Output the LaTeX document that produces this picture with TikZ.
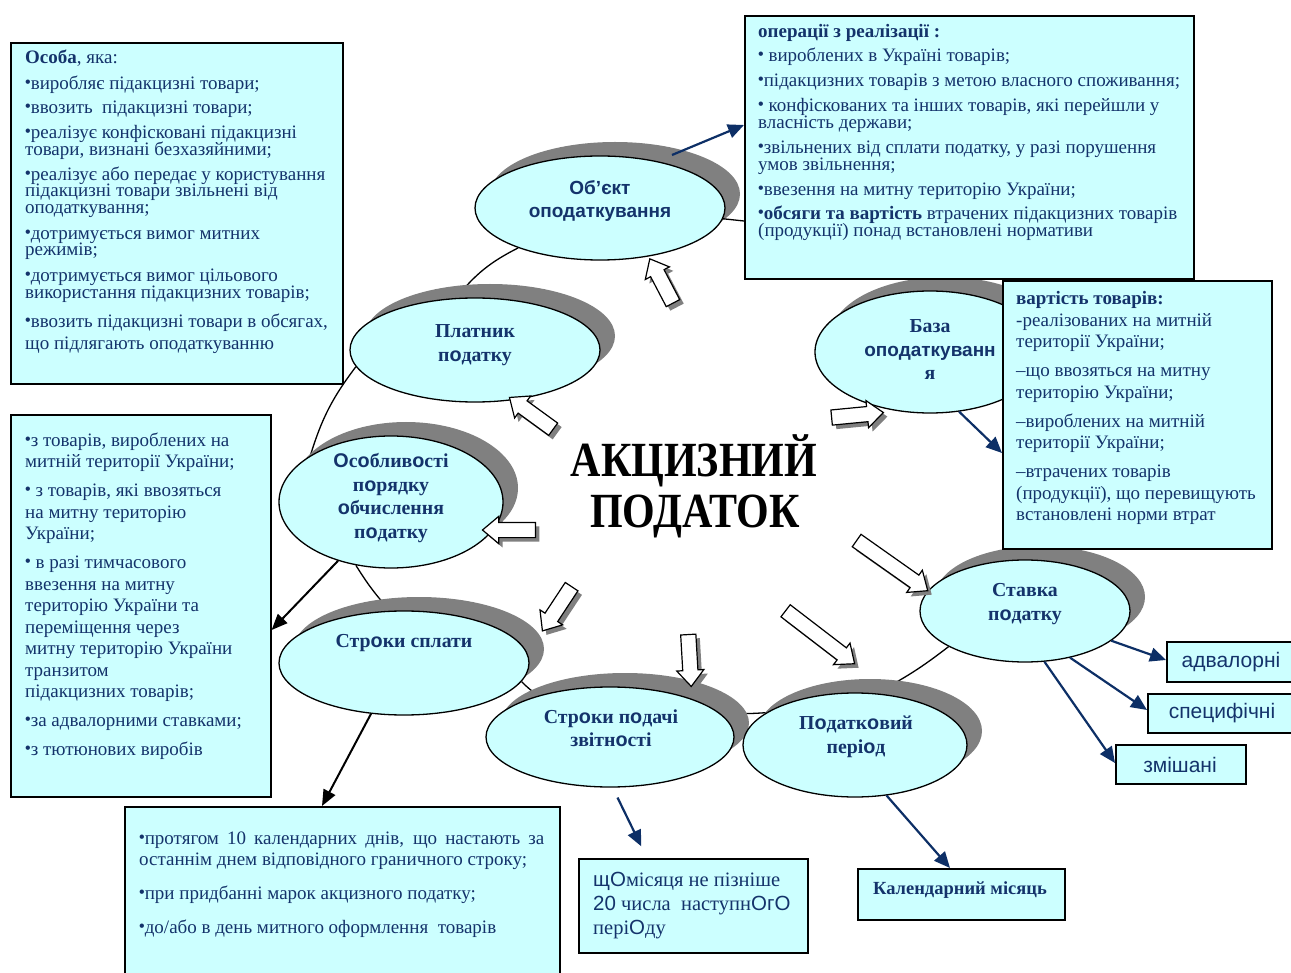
\documentclass[tikz,border=0pt]{standalone}
\usepackage{fontspec}
\setmainfont{Liberation Serif}
\newfontfamily\arialf{Liberation Sans}
\usetikzlibrary{shapes.geometric,shapes.arrows,shadows,arrows.meta,calc,backgrounds}
\definecolor{cyanfill}{HTML}{CCFFFF}
\definecolor{navytxt}{HTML}{14336B}
\definecolor{navyline}{HTML}{0D2F66}
\definecolor{shadowgray}{HTML}{808080}
\setlength{\lineskiplimit}{-30pt}
\setlength{\lineskip}{0pt}
\newcommand\ao[1]{{\arialf #1}}
\newcommand\bul{{\arialf\fontsize{16}{16}\selectfont\raisebox{2.2pt}{•}}}
\tikzset{
  box/.style={draw=black, line width=1.6pt, fill=cyanfill, inner sep=0pt, anchor=north west},
  txt/.style={anchor=north west, inner sep=0pt, align=left, text=navytxt},
  ell/.style={ellipse, draw=black, line width=1.3pt, fill=cyanfill, inner sep=0pt,
    general shadow={fill=shadowgray, shadow xshift=15pt, shadow yshift=14pt}},
  elltxt/.style={inner sep=0pt, align=center, text=navytxt, font=\bfseries\fontsize{19.8}{23.5}\selectfont},
  barrow/.style={single arrow, draw=black, line width=1.2pt, fill=white, minimum width=26pt,
    single arrow head extend=6pt, single arrow tip angle=80, inner xsep=0pt, inner ysep=7pt,
    general shadow={fill=shadowgray, shadow xshift=4pt, shadow yshift=-4pt}},
  navyarrow/.style={draw=navyline, line width=2.2pt, -{Triangle[length=16pt,width=14pt]}},
  blackarrow/.style={draw=black, line width=2pt, -{Triangle[length=16pt,width=13pt]}},
  oval/.style={draw=black, line width=1.3pt},
}
\begin{document}
\begin{tikzpicture}[x=1pt,y=1pt]
\useasboundingbox (0,0) rectangle (1291,-973);

% ellipses
\node[ell, minimum width=250pt, minimum height=104pt] (obj) at (600,-208) {};
\node[ell, minimum width=250pt, minimum height=104pt] (plat) at (475,-350) {};
\node[ell, minimum width=224pt, minimum height=132pt] (osob) at (391,-502) {};
\node[ell, minimum width=250pt, minimum height=104pt] (strok) at (404,-663) {};
\node[ell, minimum width=248pt, minimum height=100pt] (podachi) at (610,-737) {};
\node[ell, minimum width=224pt, minimum height=104pt] (period) at (855,-745) {};
\node[ell, minimum width=210pt, minimum height=102pt] (stavka) at (1025,-611) {};
\node[ell, minimum width=230pt, minimum height=122pt] (base) at (930,-352) {};

% oval connecting line behind
\begin{pgfonlayer}{background}
\draw[oval] (obj.206) to[bend right=12] (plat.110);
\draw[oval] (plat.188) to[bend right=10] (osob.150);
\draw[oval] (osob.241) to[bend right=5] (strok.105);
\draw[oval] (strok.351) to[bend right=5] (podachi.150);
\draw[oval] (podachi.13) to[bend right=5] (period.160);
\draw[oval] (period.68) to[bend right=5] (stavka.205);
\end{pgfonlayer}

% ellipse texts
\node[elltxt, font=\bfseries\fontsize{19}{23.5}\selectfont] (objt) at (600,-201) {\ao{Об’єкт}\\\ao{оподаткування}};
\node[elltxt] (platt) at (475,-345) {Платник\\п\ao{о}датку};
\node[elltxt] (osobt) at (391,-498) {\ao{О}с\ao{о}блив\ao{о}сті\\п\ao{о}рядку\\\ao{о}бчислення\\п\ao{о}датку};
\node[elltxt] (baset) at (930,-350) {База\\\ao{\fontsize{19}{23.5}\selectfont оподаткуванн}\\я};
\node[elltxt] (stavkat) at (1025,-604) {Ставка\\п\ao{о}датку};
\node[elltxt] (strokt) at (404,-643) {Стр\ao{о}ки сплати};
\node[elltxt] (podachit) at (611,-728) {Стр\ao{о}ки п\ao{о}дачі\\звітн\ao{о}сті};
\node[elltxt] (periodt) at (856,-737) {П\ao{о}датк\ao{о}вий\\пері\ao{о}д};

% boxes
\node[box, minimum width=332pt, minimum height=341pt] (ltbox) at (10,-42) {};
\node[box, minimum width=449pt, minimum height=263pt] (trbox) at (744,-15) {};
\draw[oval] (obj.355) -- ($(trbox.north west)+(0,-206)$);
\node[box, minimum width=269pt, minimum height=268pt] (rbox) at (1002,-280) {};
\node[box, minimum width=260pt, minimum height=382pt] (lmbox) at (10,-414) {};
\node[box, minimum width=435pt, minimum height=175pt] (bbox) at (124,-806) {};
\node[box, minimum width=229pt, minimum height=94pt] (mon) at (578,-858) {};
\node[box, minimum width=207pt, minimum height=51pt] (cal) at (857,-868) {};
\node[box, minimum width=132pt, minimum height=40pt] (adv) at (1166,-641) {};
\node[box, minimum width=150pt, minimum height=39pt] (spec) at (1147,-693) {};
\node[box, minimum width=130pt, minimum height=39pt] (mix) at (1115,-744) {};

% box texts
\node[txt, font=\fontsize{19}{16.5}\selectfont] (ltt) at (25,-50) {%
\textbf{Особа}, яка:\\[9.5pt]
\bul виробляє підакцизні товари;\\[7.5pt]
\bul ввозить\ \ підакцизні товари;\\[8.5pt]
\bul реалізує конфісковані підакцизні\\ товари, визнані безхазяйними;\\[8.5pt]
\bul реалізує або передає у користування\\ підакцизні товари звільнені від\\ оподаткування;\\[9.5pt]
\bul дотримується вимог митних\\ режимів;\\[9.5pt]
\bul дотримується вимог цільового\\ використання підакцизних товарів;\\[12.5pt]
\bul ввозить підакцизні товари в обсягах,\\[5.5pt] що підлягають оподаткуванню};

\node[txt, font=\fontsize{19}{17}\selectfont] (trt) at (758,-24.5) {%
\textbf{операції з реалізації :}\\[7pt]
\bul\ вироблених в Україні товарів;\\[8pt]
\bul підакцизних товарів з метою власного споживання;\\[8pt]
\bul\ конфіскованих та інших товарів, які перейшли у\\ власність держави;\\[8pt]
\bul звільнених від сплати податку, у разі порушення\\ умов звільнення;\\[8pt]
\bul ввезення на митну територію України;\\[7pt]
\bul\textbf{обсяги та вартість} втрачених підакцизних товарів\\ (продукції) понад встановлені нормативи};

\node[txt, font=\fontsize{19}{21.5}\selectfont] (rt) at (1016,-291.5) {%
\textbf{вартість товарів:}\\
-реалізованих на митній\\ території України;\\[7.5pt]
–що ввозяться на митну\\ територію України;\\[7.5pt]
–вироблених на митній\\ території України;\\[7.5pt]
–втрачених товарів\\ (продукції), що перевищують\\ встановлені норми втрат};

\node[txt, font=\fontsize{19}{21.5}\selectfont] (lmt) at (25,-432.5) {%
\bul з товарів, вироблених на\\ митній території України;\\[7.5pt]
\bul\ з товарів, які ввозяться\\ на митну територію\\ України;\\[7.5pt]
\bul\ в разі тимчасового\\ ввезення на митну\\ територію України та\\ переміщення через\\ митну територію України\\ транзитом\\ підакцизних товарів;\\[7.5pt]
\bul за адвалорними ставками;\\[7.5pt]
\bul з тютюнових виробів};

\node[txt, font=\fontsize{19}{21}\selectfont] (bt) at (139,-831.5) {%
\makebox[405pt][s]{\bul протягом 10 календарних днів, що настають за}\\
останнім днем відповідного граничного строку;\\[13pt]
\bul при придбанні марок акцизного податку;\\[13pt]
\bul до/або в день митного оформлення\ \ товарів};

\node[txt, font=\fontsize{20.5}{24}\selectfont] (mont) at (593,-871.5) {%
\ao{щО}місяця не пізніше\\ \ao{20} числа\ \ наступн\ao{ОгО}\\ пері\ao{О}ду};
\node[inner sep=0pt, text=navytxt, font=\bfseries\fontsize{18.5}{20}\selectfont] (calt) at (960,-890) {Календарний місяць};
\node[inner sep=0pt, text=navytxt, font=\arialf\fontsize{21}{22}\selectfont] (advt) at (1231,-662) {адвалорні};
\node[inner sep=0pt, text=navytxt, font=\arialf\fontsize{21}{22}\selectfont] (spect) at (1222,-713) {специфічні};
\node[inner sep=0pt, text=navytxt, font=\arialf\fontsize{21}{22}\selectfont] (mixt) at (1180,-765) {змішані};

% title
\node[inner sep=0pt, anchor=base, font=\bfseries\fontsize{42}{42}\selectfont] (title1) at (694,-477) {\scalebox{1}[1.17]{АКЦИЗНИЙ}};
\node[inner sep=0pt, anchor=base, font=\bfseries\fontsize{42}{42}\selectfont] (title2) at (695,-527) {\scalebox{1}[1.17]{ПОДАТОК}};

% block arrows
\node[barrow, minimum height=50pt, rotate=117.6] (ba1) at (663.5,-285) {};
\node[barrow, minimum height=54pt, rotate=144] (ba2) at (535,-416) {};
\node[barrow, minimum height=53pt, rotate=180] (ba3) at (513.5,-530) {};
\node[barrow, minimum height=53pt, rotate=236.6] (ba4) at (559.5,-605) {};
\node[barrow, minimum height=52pt, rotate=-86.7] (ba5) at (689.5,-656) {};
\node[barrow, minimum height=87pt, rotate=-37.5] (ba6) at (816.5,-634.5) {};
\node[barrow, minimum height=87pt, rotate=-35.2] (ba7) at (888.5,-563) {};
\node[barrow, minimum height=52pt, rotate=5.5] (ba8) at (853,-415.5) {};

% arrows
\draw[navyarrow] ($(obj.center)+(72,53)$) -- ($(trbox.north west)+(0,-110)$);
\draw[navyarrow] (base.296) -- ($(rbox.north west)+(0,-173)$);
\draw[navyarrow, shorten <=11pt, shorten >=13pt] (podachi.273) -- ($(mon.north west)+(69,0)$);
\draw[navyarrow] (period.302) -- ($(cal.north west)+(93,0)$);
\draw[navyarrow] (stavka.341) -- ($(adv.north west)+(0,-19)$);
\draw[navyarrow] (stavka.314) -- ($(spec.north west)+(0,-17)$);
\draw[navyarrow] (stavka.291) -- ($(mix.north west)+(0,-19)$);
\draw[blackarrow] (osob.228) -- ($(lmbox.north east)+(0,-216)$);
\draw[blackarrow] (strok.237) -- ($(bbox.north west)+(198,0)$);
\end{tikzpicture}
\end{document}
